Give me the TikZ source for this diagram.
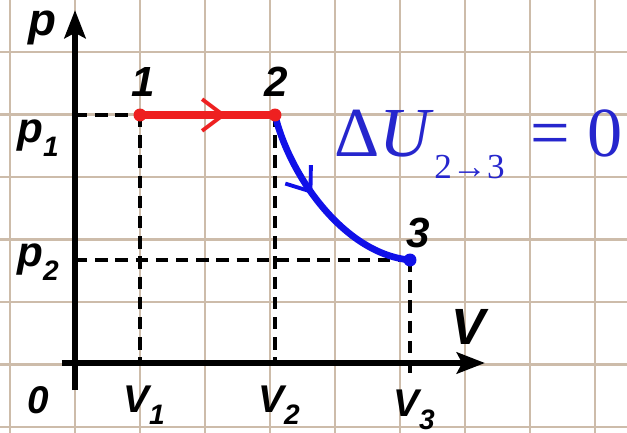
\documentclass[tikz,border=0pt]{standalone}
\usepackage{fontspec}
\newfontfamily\labelfont{Liberation Sans}
\newfontfamily\formulafont{Liberation Serif}
\usetikzlibrary{arrows.meta,decorations.markings}

\definecolor{gridtan}{RGB}{205,188,170}
\definecolor{linered}{RGB}{238,32,32}
\definecolor{lineblue}{RGB}{16,16,232}
\definecolor{formulablue}{RGB}{38,38,205}

\newcommand{\lblsub}[1]{\raisebox{-0.32em}{\fontsize{16}{16}\selectfont #1}}

\tikzset{
  gridline/.style={gridtan, line width=1.2pt},
  axis/.style={line width=3.6pt, -{Stealth[length=16pt,width=12pt,inset=3pt]}},
  helper/.style={line width=1.8pt, dash pattern=on 7pt off 4.5pt},
  dot/.style={circle, inner sep=0pt, minimum size=0.26cm},
  lbl/.style={font=\labelfont\bfseries\itshape\fontsize{24}{24}\selectfont, inner sep=0pt},
  midarrow/.style={postaction={decorate}, decoration={markings,
      mark=at position #1 with {\arrow{Straight Barb[length=12pt,width=18pt,line width=2.2pt]}}}}
}

\begin{document}
\begin{tikzpicture}[x=0.02cm, y=-0.02cm]
  \useasboundingbox (0,0) rectangle (627,433);
  \fill[white] (0,0) rectangle (627,433);
  % Grid paper
  \foreach \gx in {10,75,...,600}
    \draw[gridline] (\gx,0) -- (\gx,433);
  \foreach \gy in {52,114.5,...,430}
    \draw[gridline] (0,\gy) -- (627,\gy);
  % States
  \coordinate (s1) at (140,115);
  \coordinate (s2) at (275,115);
  \coordinate (s3) at (410,260);
  % Axes
  \coordinate (origin) at (75,363);
  \draw[axis] (75,390) -- (75,10);
  \draw[axis] (62,363) -- (485,363);
  % Helper lines
  \draw[helper] (origin |- s1) -- (s1);
  \draw[helper] (s1) -- (s1 |- origin);
  \draw[helper] (s2) -- (s2 |- origin);
  \draw[helper] (origin |- s3) -- (s3);
  \draw[helper] (s3) -- ([yshift=-0.26cm]s3 |- origin);
  % Process 1-2 (isobaric) and 2-3 (isothermal)
  \draw[linered, line width=4.2pt, midarrow=0.64] (s1) -- (s2);
  \draw[lineblue, line width=3.8pt, midarrow=0.42]
    (s2) .. controls (290,177) and (345,254) .. (s3);
  \node[dot, fill=linered] (d1) at (s1) {};
  \node[dot, fill=linered] (d2) at (s2) {};
  \node[dot, fill=lineblue] (d3) at (s3) {};
  % Labels
  \node[lbl] (lp) at (42,28) {\fontsize{26}{26}\selectfont p};
  \node[lbl] (lv) at (468,327) {\fontsize{29}{29}\selectfont V};
  \node[lbl] (l1) at (143,82) {1};
  \node[lbl] (l2) at (276,82) {2};
  \node[lbl] (l3) at (418,233) {3};
  \node[lbl] (lp1) at (38,138) {p\lblsub{1}};
  \node[lbl] (lp2) at (38,262) {p\lblsub{2}};
  \node[lbl] (l0) at (38,400) {\fontsize{22}{22}\selectfont 0};
  \node[lbl] (lv1) at (144,405) {\fontsize{22}{22}\selectfont V\lblsub{1}};
  \node[lbl] (lv2) at (279,405) {\fontsize{22}{22}\selectfont V\lblsub{2}};
  \node[lbl] (lv3) at (414,410) {\fontsize{22}{22}\selectfont V\lblsub{3}};
  % Internal energy change
  \node[formulablue, anchor=base west, inner sep=0pt,
    font=\formulafont\fontsize{40}{40}\selectfont] (du) at (334,156) {Δ\textit{U}};
  \node[formulablue, anchor=base west, inner sep=0pt,
    font=\formulafont\fontsize{20}{20}\selectfont] (dusub) at (434,178) {2→3};
  \node[formulablue, anchor=base west, inner sep=0pt,
    font=\formulafont\fontsize{40}{40}\selectfont] (dueq) at (530,156) {= 0};
\end{tikzpicture}
\end{document}
